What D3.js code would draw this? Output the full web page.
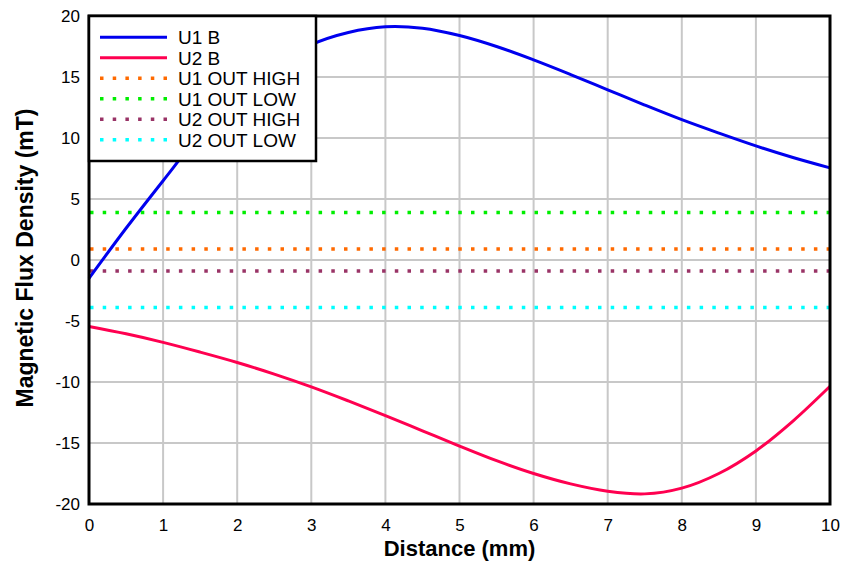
<!DOCTYPE html>
<meta charset="utf-8">
<script src="https://d3js.org/d3.v7.min.js"></script>
<style>
  body { margin: 0; background: #fff; }
  text { font-family: "Liberation Sans", Arial, sans-serif; }
</style>
<div id="chart"></div>
<script>

// distance samples (mm) and field values (mT)
const distance = [0, 0.5, 1, 1.5, 2, 2.5, 3, 3.5, 4, 4.5, 5, 5.5, 6, 6.5, 7, 7.5, 8, 8.5, 9, 9.5, 10];
const u1B = [-1.5, 2.6, 6.5, 10.3, 13.5, 15.9, 17.65, 18.65, 19.12, 19.0, 18.4, 17.5, 16.4, 15.2, 13.95, 12.7, 11.5, 10.4, 9.35, 8.4, 7.55];
const u2B = [-5.45, -6.05, -6.75, -7.55, -8.4, -9.35, -10.4, -11.55, -12.75, -14.0, -15.25, -16.45, -17.5, -18.35, -18.95, -19.17, -18.7, -17.5, -15.65, -13.2, -10.35];

// switching thresholds (mT)
const thresholds = [
  {name: "U1 OUT HIGH", value: 0.9, color: "#ff6a00"},
  {name: "U1 OUT LOW", value: 3.9, color: "#00ee00"},
  {name: "U2 OUT HIGH", value: -0.9, color: "#993366"},
  {name: "U2 OUT LOW", value: -3.9, color: "#00ffff"}
];

const curves = [
  {name: "U1 B", values: u1B, color: "#0000ee"},
  {name: "U2 B", values: u2B, color: "#ff0050"}
];

const xTicks = d3.range(0, 11, 1);
const yTicks = d3.range(-20, 21, 5);

const margin = {top: 16, right: 12, bottom: 57, left: 89},
      width = 842 - margin.left - margin.right,
      height = 561 - margin.top - margin.bottom;

const svg = d3.select("#chart")
  .append("svg")
  .attr("width", width + margin.left + margin.right)
  .attr("height", height + margin.top + margin.bottom)
  .append("g")
  .attr("transform", `translate(${margin.left}, ${margin.top})`);

const x = d3.scaleLinear().domain([0, 10]).range([0, width]);
const y = d3.scaleLinear().domain([-20, 20]).range([height, 0]);

// grid
svg.append("g")
  .selectAll("line.vx")
  .data(xTicks)
  .join("line")
  .attr("x1", d => x(d)).attr("x2", d => x(d))
  .attr("y1", 0).attr("y2", height)
  .attr("stroke", "#c8c8c8").attr("stroke-width", 2);
svg.append("g")
  .selectAll("line.hy")
  .data(yTicks)
  .join("line")
  .attr("x1", 0).attr("x2", width)
  .attr("y1", d => y(d)).attr("y2", d => y(d))
  .attr("stroke", "#c8c8c8").attr("stroke-width", 2);

// threshold lines
svg.append("g")
  .selectAll("line")
  .data(thresholds)
  .join("line")
  .attr("x1", x(0) + 1).attr("x2", x(10))
  .attr("y1", d => y(d.value)).attr("y2", d => y(d.value))
  .attr("stroke", d => d.color)
  .attr("stroke-width", 3.5)
  .attr("stroke-dasharray", "3.5 9.2");

// field curves
const line = d3.line()
  .x((d, i) => x(distance[i]))
  .y(d => y(d))
  .curve(d3.curveCatmullRom);

svg.append("g")
  .selectAll("path")
  .data(curves)
  .join("path")
  .attr("d", d => line(d.values))
  .attr("fill", "none")
  .attr("stroke", d => d.color)
  .attr("stroke-width", 3);

// axes (plain hyphen for negatives, like the original)
const xAxis = svg.append("g")
  .attr("transform", `translate(0, ${height})`)
  .call(d3.axisBottom(x).tickValues(xTicks).tickFormat(d => String(d)).tickSize(0).tickPadding(15));
const yAxis = svg.append("g")
  .call(d3.axisLeft(y).tickValues(yTicks).tickFormat(d => String(d)).tickSize(0).tickPadding(9));
[xAxis, yAxis].forEach(a => {
  a.select(".domain").remove();
  a.selectAll("text")
    .attr("font-size", 17)
    .attr("fill", "#000")
    .style("font-family", "'Liberation Sans', Arial, sans-serif");
});

// frame
svg.append("rect")
  .attr("width", width).attr("height", height)
  .attr("fill", "none").attr("stroke", "#000").attr("stroke-width", 3);

// legend
const legendItems = curves.map(c => ({name: c.name, color: c.color, dotted: false}))
  .concat(thresholds.map(t => ({name: t.name, color: t.color, dotted: true})));

const legend = svg.append("g");
legend.append("rect")
  .attr("x", 0).attr("y", 0)
  .attr("width", 227).attr("height", 145)
  .attr("fill", "#fff").attr("stroke", "#000").attr("stroke-width", 2.5);

const row = legend.selectAll("g.row")
  .data(legendItems)
  .join("g")
  .attr("transform", (d, i) => `translate(0, ${21.3 + i * 20.5})`);
row.append("line")
  .attr("x1", 11).attr("x2", 78)
  .attr("stroke", d => d.color)
  .attr("stroke-width", d => d.dotted ? 3.5 : 3)
  .attr("stroke-dasharray", d => d.dotted ? "3.5 9.2" : null);
row.append("text")
  .attr("x", 89).attr("dy", "0.36em")
  .attr("font-size", 19)
  .text(d => d.name);

// axis titles
svg.append("text")
  .attr("x", width / 2).attr("y", height + 52)
  .attr("text-anchor", "middle")
  .attr("font-size", 22).attr("font-weight", "bold")
  .text("Distance (mm)");
svg.append("text")
  .attr("transform", `translate(${-56}, ${height / 2 - 2}) rotate(-90)`)
  .attr("text-anchor", "middle")
  .attr("font-size", 23).attr("font-weight", "bold")
  .text("Magnetic Flux Density (mT)");

</script>
